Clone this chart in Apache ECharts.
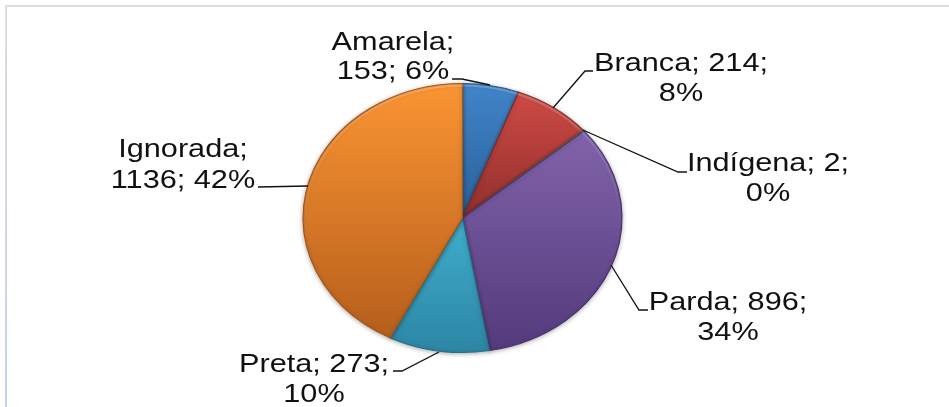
<!DOCTYPE html>
<html>
<head>
<meta charset="utf-8">
<style>
  html, body { margin: 0; padding: 0; background: #fff; }
  #chart { width: 949px; height: 407px; }
</style>
</head>
<body>
<div id="chart"></div>
<script src="https://cdn.jsdelivr.net/npm/echarts@6/dist/echarts.min.js"></script>
<script>
const categories = ['Amarela', 'Branca', 'Indígena', 'Parda', 'Preta', 'Ignorada']
const values = [153, 214, 2, 896, 273, 1136]
const percents = [6, 8, 0, 34, 10, 42]
const labelLines = [
  ['Amarela;', '153; 6%'],
  ['Branca; 214;', '8%'],
  ['Indígena; 2;', '0%'],
  ['Parda; 896;', '34%'],
  ['Preta; 273;', '10%'],
  ['Ignorada;', '1136; 42%'],
]

// the picture is stretched sideways, so the pie is an ellipse and the text is wide
const CX = 462.5
const CY = 218
const RX = 159.5
const RY = 134.5
const TEXT_STRETCH = 1.18
const CAP_MIDDLE = 7

const colorsTop = ['#4285ca', '#cf4a45', '#a5c463', '#8263ab', '#40aecd', '#fb9533']
const colorsBottom = ['#285f98', '#8f2f2c', '#76913c', '#533a7c', '#2c86a4', '#b55e1c']
const edges = ['#28588a', '#7e2b28', '#66802f', '#46316b', '#25708a', '#a65619']

// centre x and the two baselines of each label, then its leader line
const labelPos = [
  [393, 50, 79],
  [681, 71, 101],
  [768, 171, 201],
  [728, 310, 340],
  [314, 372, 402],
  [183, 157, 188],
]
const leaders = [
  [[452, 79], [462, 79], [490, 85]],
  [[593, 71], [585, 71], [553, 108]],
  [[687, 172], [678, 172], [583, 130]],
  [[648, 310], [639, 310], [611, 265]],
  [[393, 371], [402, 371], [439, 352]],
  [[258, 187], [308, 186]],
]

const total = values.reduce((a, b) => a + b, 0)

function renderSlice(params, api) {
  const i = params.dataIndex
  let before = 0
  for (let k = 0; k < i; k++) before += values[k]
  const start = -Math.PI / 2 + (before / total) * Math.PI * 2
  const end = start + (api.value(0) / total) * Math.PI * 2
  return {
    type: 'group',
    x: CX,
    y: CY,
    scaleX: RX / RY,
    children: [
      {
        type: 'sector',
        shape: { cx: 0, cy: 0, r: RY, r0: 0, startAngle: start, endAngle: end, clockwise: true },
        style: {
          fill: {
            type: 'linear', x: 0, y: 0, x2: 0, y2: 1,
            colorStops: [
              { offset: 0, color: colorsTop[i] },
              { offset: 1, color: colorsBottom[i] },
            ],
          },
          stroke: edges[i],
          lineWidth: 1,
          shadowBlur: 4,
          shadowColor: 'rgba(0,0,0,0.3)',
          shadowOffsetY: 1,
        },
      },
      // soft bevel along the rim, fading out towards the bottom
      {
        type: 'arc',
        shape: { cx: 0, cy: 0, r: RY - 2, startAngle: start, endAngle: end, clockwise: true },
        style: {
          fill: null,
          lineWidth: 2,
          stroke: {
            type: 'linear', x: 0, y: -RY, x2: 0, y2: RY, global: true,
            colorStops: [
              { offset: 0, color: 'rgba(255,255,255,0.22)' },
              { offset: 0.6, color: 'rgba(255,255,255,0)' },
            ],
          },
        },
      },
    ],
  }
}

function renderLabel(params) {
  const i = params.dataIndex
  const [x, y1, y2] = labelPos[i]
  const line = (text, y) => ({
    type: 'text',
    x: x,
    y: y - CAP_MIDDLE,
    scaleX: TEXT_STRETCH,
    style: {
      text: text,
      x: 0,
      y: 0,
      align: 'center',
      verticalAlign: 'middle',
      font: '26px "Liberation Sans", Arial, sans-serif',
      fill: '#111',
    },
  })
  return {
    type: 'group',
    children: [
      {
        type: 'polyline',
        shape: { points: leaders[i] },
        style: { fill: null, stroke: '#111', lineWidth: 1.3 },
      },
      line(labelLines[i][0], y1),
      line(labelLines[i][1], y2),
    ],
  }
}

const chart = echarts.init(document.getElementById('chart'), undefined, { renderer: 'canvas' })
chart.setOption({
  animation: false,
  backgroundColor: '#fff',
  graphic: [
    { type: 'rect', shape: { x: 5, y: 5, width: 944, height: 2 }, style: { fill: '#dcdcdc' }, silent: true },
    {
      type: 'rect',
      shape: { x: 5, y: 5, width: 2, height: 402 },
      style: {
        fill: {
          type: 'linear', x: 0, y: 0, x2: 0, y2: 1,
          colorStops: [
            { offset: 0, color: '#dcdcdc' },
            { offset: 1, color: '#c2d4ee' },
          ],
        },
      },
      silent: true,
    },
  ],
  series: [
    {
      type: 'custom',
      coordinateSystem: 'none',
      silent: true,
      data: categories.map((name, i) => ({ name, value: [values[i], percents[i]] })),
      renderItem: renderSlice,
    },
    {
      type: 'custom',
      coordinateSystem: 'none',
      silent: true,
      data: categories.map((name, i) => ({ name, value: [values[i], percents[i]] })),
      renderItem: renderLabel,
    },
  ],
})
</script>
</body>
</html>
